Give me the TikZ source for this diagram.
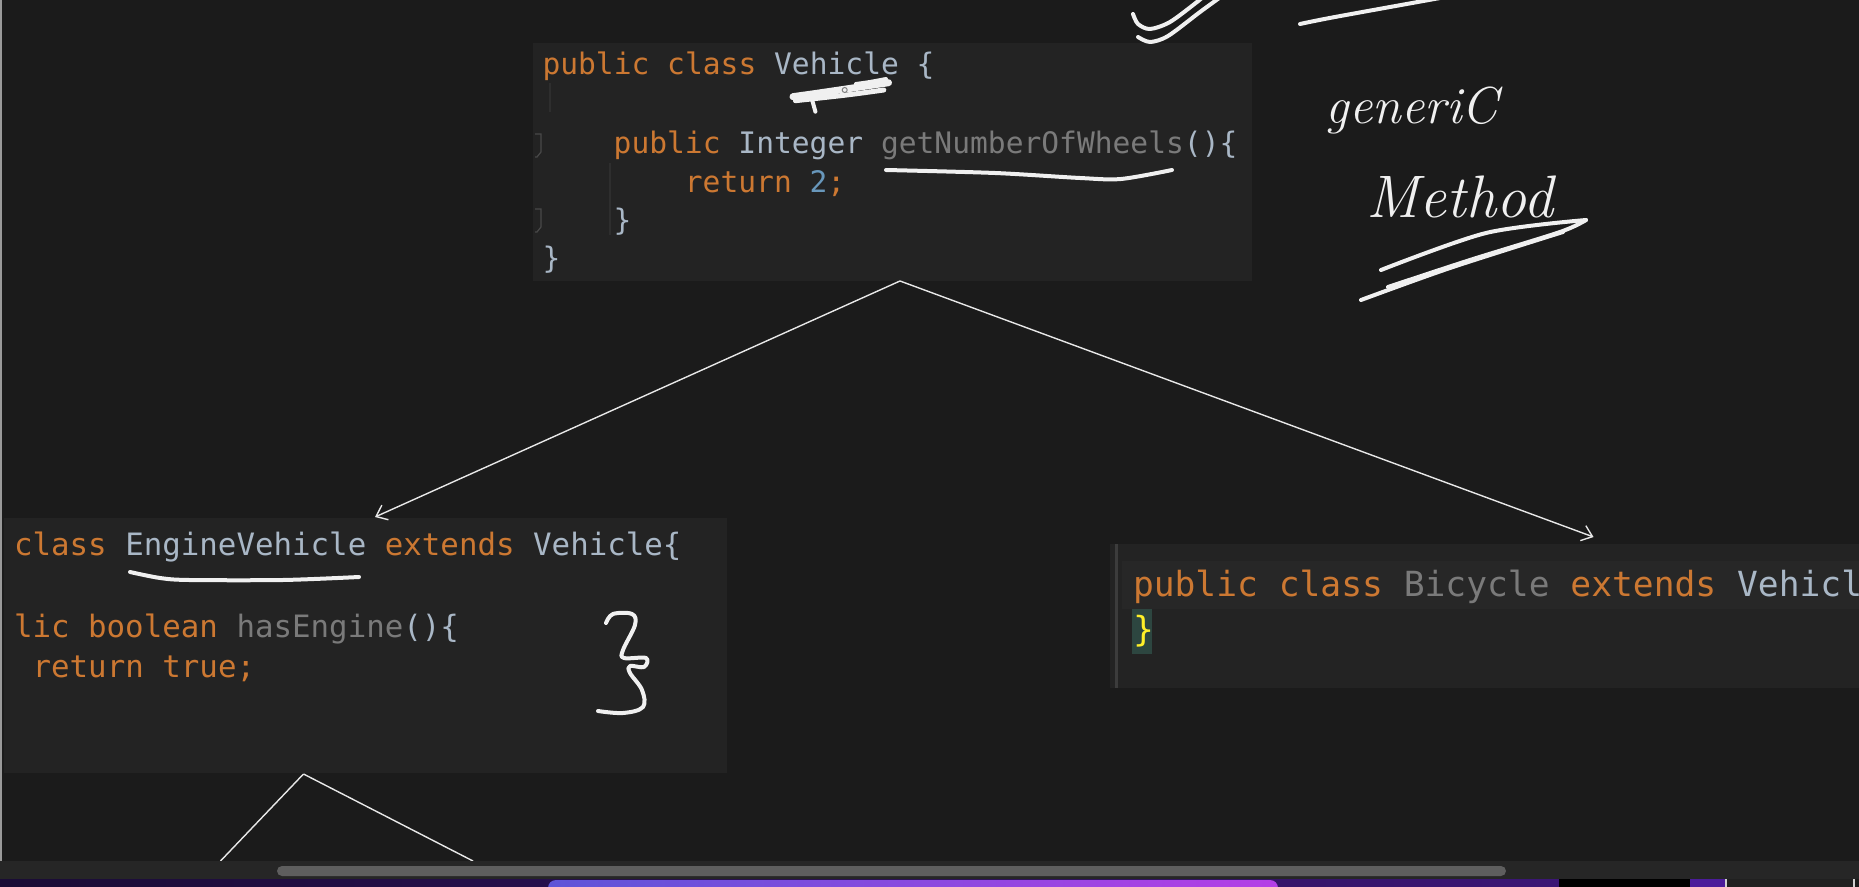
\documentclass[tikz,border=0pt]{standalone}
\usepackage{graphicx}
\usepackage{fontspec}
\newfontfamily\codefont{DejaVu Sans Mono}
\usetikzlibrary{arrows.meta}
\definecolor{bg}{HTML}{1B1B1B}
\definecolor{panelbg}{HTML}{232323}
\definecolor{bandbg}{HTML}{272727}
\definecolor{kwc}{HTML}{CC7832}
\definecolor{idc}{HTML}{A9B7C6}
\definecolor{grc}{HTML}{7A7A7A}
\definecolor{numc}{HTML}{6897BB}
\definecolor{yelc}{HTML}{FFEF28}
\definecolor{matchbg}{HTML}{2D4640}
\definecolor{inkc}{HTML}{F0F0F0}
\definecolor{connc}{HTML}{E8E8E8}
\definecolor{barbg}{HTML}{262626}
\definecolor{thumbc}{HTML}{5E5E5E}
\definecolor{gutterc}{HTML}{484848}
\definecolor{guidec}{HTML}{2E2E2E}
\definecolor{edgec}{HTML}{9A9A9A}
\definecolor{sidelinec}{HTML}{3C3C3C}
\definecolor{purpA}{HTML}{1A0C35}
\definecolor{purpB}{HTML}{3B1675}
\definecolor{purpC}{HTML}{4B1C9A}
\definecolor{blobA}{HTML}{5D55D8}
\definecolor{blobB}{HTML}{B43FE6}
\definecolor{lightc}{HTML}{D0D0D0}
\definecolor{dockc}{HTML}{202020}
\newcommand{\ckw}[1]{\textcolor{kwc}{#1}}
\newcommand{\cid}[1]{\textcolor{idc}{#1}}
\newcommand{\cgr}[1]{\textcolor{grc}{#1}}
\newcommand{\cnum}[1]{\textcolor{numc}{#1}}
\begin{document}
\begin{tikzpicture}[x=0.5pt,y=-0.5pt,
  panel/.style={rectangle, fill=panelbg, draw=none, inner sep=0pt, outer sep=0pt},
  code/.style={anchor=base west, inner sep=0pt, outer sep=0pt},
  codeA/.style={code, font=\codefont\fontsize{14.8}{17}\selectfont},
  codeB/.style={code, font=\codefont\fontsize{15.4}{18}\selectfont},
  codeC/.style={code, font=\codefont\fontsize{17.3}{20}\selectfont},
  conn/.style={draw=connc, line width=0.7pt, -{Straight Barb[length=5pt,width=8pt]}},
  connline/.style={draw=connc, line width=0.7pt},
  ink/.style={draw=inkc, line width=2pt, line cap=round, line join=round},
  hand/.style={text=inkc, inner sep=0pt, anchor=base}
]
\useasboundingbox (0,0) rectangle (1859,887);
\clip (0,0) rectangle (1859,887);
\fill[bg] (0,0) rectangle (1859,887);

% panels
\node[panel, minimum width=359.5pt, minimum height=119pt] (vehicle) at (892.5,162) {};
\node[panel, minimum width=361.5pt, minimum height=127.5pt] (engine) at (365.5,645.5) {};
\node[panel, minimum width=374.5pt, minimum height=72pt] (bicycle) at (1484.5,616) {};
\fill[bandbg] (1122,561) rectangle (1859,609);
\draw[sidelinec, line width=1.5pt] (1116,544) -- (1116,688);

% gutter details of top panel
\draw[gutterc, line width=0.6pt] (535,134) -- (541,134) -- (541,152) -- (537,157) -- (535,157);
\draw[gutterc, line width=0.6pt] (535,209) -- (541,209) -- (541,227) -- (537,232) -- (535,232);
\draw[guidec, line width=0.7pt] (550,83) -- (550,112);
\draw[guidec, line width=0.7pt] (610,163) -- (610,235);

% left screen edge
\draw[edgec, line width=1.2pt] (1.2,0) -- (1.2,861);

% code: Vehicle
\node[codeA] (v1) at (542.5,75) {\ckw{public class }\cid{Vehicle \{}};
\node[codeA] (v2) at (613.7,153.5) {\ckw{public }\cid{Integer }\cgr{getNumberOfWheels}\cid{()\{}};
\node[codeA] (v3) at (684.9,192.5) {\ckw{return }\cnum{2}\ckw{;}};
\node[codeA] (v4) at (613.7,230.5) {\cid{\}}};
\node[codeA] (v5) at (542.5,268.5) {\cid{\}}};

% code: EngineVehicle
\node[codeB] (e1) at (14,555.5) {\ckw{class }\cid{EngineVehicle }\ckw{extends }\cid{Vehicle\{}};
\node[codeB] (e2) at (14,637) {\ckw{lic boolean }\cgr{hasEngine}\cid{()\{}};
\node[codeB] (e3) at (32.6,677.5) {\ckw{return true;}};

% code: Bicycle
\node[codeC] (b1) at (1133,596.5) {\ckw{public class }\cgr{Bicycle }\ckw{extends }\cid{Vehicl}};
\fill[matchbg] (1132,609) rectangle (1152,654);
\node[codeC, text=yelc] (b2) at (1133,641) {\}};

% connectors
\draw[conn] ([xshift=3.75pt]vehicle.south) -- ([xshift=4.75pt,yshift=0.5pt]engine.north);
\draw[conn] ([xshift=3.75pt]vehicle.south) -- ([xshift=54.5pt,yshift=3.5pt]bicycle.north);
\coordinate (lowL) at (220.5,861);
\coordinate (lowR) at (473,861);
\draw[connline] ([xshift=-31pt,yshift=-0.5pt]engine.south) -- (lowL);
\draw[connline] ([xshift=-31pt,yshift=-0.5pt]engine.south) -- (lowR);

% handwriting: top scribbles
\draw[ink] plot[smooth] coordinates {(1133,14) (1138,24) (1150,29) (1170,22) (1197,2) (1205,-5)};
\draw[ink] plot[smooth] coordinates {(1138,37) (1150,42) (1168,36) (1200,12) (1222,-4)};
\draw[ink] plot[smooth] coordinates {(1300,24) (1335,17) (1440,-2)};

% scribble under Vehicle
\draw[ink, line width=3.5pt] plot[smooth] coordinates {(793,96.7) (828,91.7) (888.5,82.7)};
\draw[ink, line width=2.5pt] plot[smooth] coordinates {(795.4,100.7) (846.6,95) (883.8,90)};
\draw[ink] (811.7,98.3) -- (815.4,111.7);
\draw[ink] plot[smooth] coordinates {(855.9,84) (870,82) (886,79)};
\draw[gray, line width=0.5pt] (844.7,90) circle[radius=1.25pt];

% underline getNumberOfWheels
\draw[ink] plot[smooth] coordinates {(886,170) (995,173) (1080,178) (1121,179) (1172,170)};
% underline EngineVehicle
\draw[ink] plot[smooth] coordinates {(130,572) (160,578) (189,580) (283,580) (359,577)};

% brace
\draw[ink] plot[smooth, tension=0.6] coordinates {(606,623) (613,614) (632,614) (635,625) (623,650) (624,658) (646,658) (644,667) (630,666) (630,673) (642,690) (643,707) (623,713) (598,711)};

% generic Method
\node[hand, font=\fontsize{26}{26}\selectfont\itshape] (gen) at (1412,124) {generiC};
\node[hand, font=\fontsize{30}{30}\selectfont\itshape] (meth) at (1460,218) {Method};
\draw[ink] plot[smooth] coordinates {(1381,270) (1486,233) (1586,220)};
\draw[ink] plot[smooth] coordinates {(1586,220) (1560,232) (1470,260) (1388,287)};
\draw[ink] plot[smooth] coordinates {(1361,300) (1450,268) (1563,232)};

% scroll bar
\fill[barbg] (0,861) rectangle (1859,879);
\fill[thumbc, rounded corners=2.5pt] (277,866) rectangle (1506,876);

% bottom strip
\shade[left color=purpA, right color=purpB] (0,879) rectangle (1559,887);
\shade[left color=blobA, right color=blobB, rounded corners=4pt] (548,880) rectangle (1278,900);
\fill[black] (1559,879) rectangle (1690,887);
\fill[purpC] (1690,879) rectangle (1725,887);
\fill[lightc] (1725,879) rectangle (1727,887);
\fill[dockc] (1727,879) rectangle (1853,887);
\fill[lightc] (1853,879) rectangle (1855,887);
\end{tikzpicture}
\end{document}
